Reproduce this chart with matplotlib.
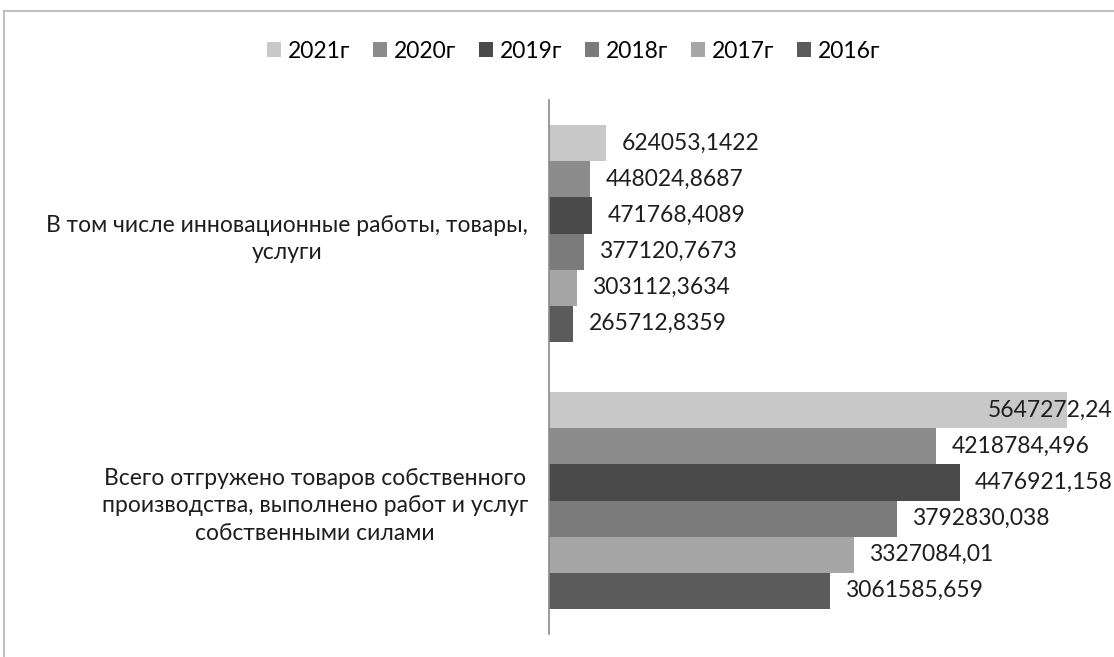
import numpy as np
import matplotlib.pyplot as plt
from matplotlib.lines import Line2D
from matplotlib.patches import Patch

plt.rcParams['font.family'] = ['Lato', 'DejaVu Sans']

categories = ['Всего отгружено товаров собственного\nпроизводства, выполнено работ и услуг\nсобственными силами',
              'В том числе инновационные работы, товары,\nуслуги']
years = ['2016г', '2017г', '2018г', '2019г', '2020г', '2021г']
values = {
    '2016г': [3061585.659, 265712.8359],
    '2017г': [3327084.01, 303112.3634],
    '2018г': [3792830.038, 377120.7673],
    '2019г': [4476921.158, 471768.4089],
    '2020г': [4218784.496, 448024.8687],
    '2021г': [5647272.24, 624053.1422],
}
labels = {
    '2016г': ['3061585,659', '265712,8359'],
    '2017г': ['3327084,01', '303112,3634'],
    '2018г': ['3792830,038', '377120,7673'],
    '2019г': ['4476921,158', '471768,4089'],
    '2020г': ['4218784,496', '448024,8687'],
    '2021г': ['5647272,24', '624053,1422'],
}
colors = {
    '2016г': '#5b5b5b',
    '2017г': '#a6a6a6',
    '2018г': '#7b7b7b',
    '2019г': '#4a4a4a',
    '2020г': '#8c8c8c',
    '2021г': '#c8c8c8',
}
fs = 16.5
tc = '#1e1e1e'

fig = plt.figure(figsize=(11.14, 6.57), dpi=100)
ax = fig.add_axes([549 / 1114, 1 - 634 / 657, 1 - 549 / 1114, 534 / 657])
xmax = 565 / 518 * 5647272

y = np.arange(len(categories))
h = 0.135
for i, yr in enumerate(years):
    pos = y + (i - 2.5) * h
    ax.barh(pos, values[yr], height=h, color=colors[yr], edgecolor='none')
    for p, v, t in zip(pos, values[yr], labels[yr]):
        if v > 0.85 * xmax:
            # label does not fit outside: pushed back against the right edge
            ax.annotate(t, (1.0, p), xycoords=('axes fraction', 'data'),
                        xytext=(-1, 0), textcoords='offset points',
                        ha='right', va='center', fontsize=fs, color=tc,
                        annotation_clip=False)
        else:
            ax.annotate(t, (v, p), xytext=(11, 0), textcoords='offset points',
                        ha='left', va='center', fontsize=fs, color=tc,
                        annotation_clip=False)

ax.set_xlim(0, xmax)
ax.set_ylim(-0.5, 1.5)
ax.set_yticks(y)
ax.set_yticklabels(categories, fontsize=fs, color=tc, multialignment='center',
                   linespacing=1.4)
ax.tick_params(axis='y', length=0, pad=15)
ax.set_xticks([])
for s in ['top', 'right', 'bottom']:
    ax.spines[s].set_visible(False)
ax.spines['left'].set_color('#8a8a8a')
ax.spines['left'].set_linewidth(1.2)

handles = [Patch(facecolor=colors[yr], edgecolor='none') for yr in years[::-1]]
fig.legend(handles, years[::-1], loc='center', bbox_to_anchor=(0.515, 1 - 51 / 657),
           ncol=6, frameon=False, fontsize=fs, handlelength=0.6, handleheight=0.6,
           handletextpad=0.3, columnspacing=1.0)

# chart frame
fig.add_artist(Line2D([4 / 1114, 4 / 1114], [0, 1 - 11 / 657], transform=fig.transFigure,
                      color='#c0c0c0', lw=1.5))
fig.add_artist(Line2D([4 / 1114, 1], [1 - 11 / 657, 1 - 11 / 657], transform=fig.transFigure,
                      color='#c0c0c0', lw=1.5))

fig.savefig('out.png', dpi=100)
